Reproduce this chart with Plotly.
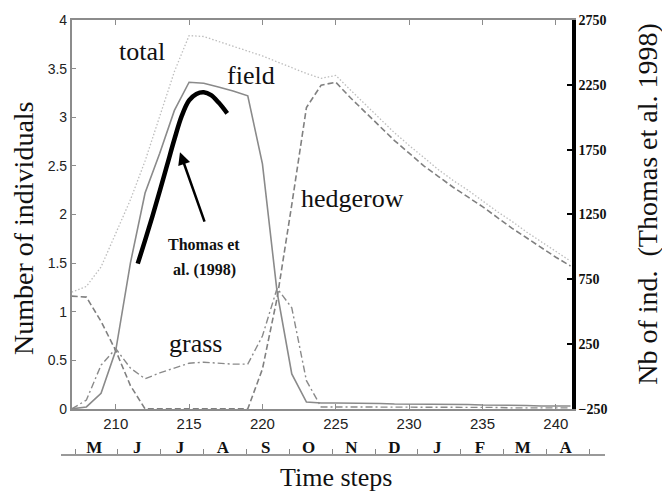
import plotly.graph_objects as go

# ---------------- data ----------------
t = list(range(207, 242))
total = [1.20, 1.26, 1.46, 1.80, 2.15, 2.55, 3.00, 3.47, 3.84, 3.83,
         3.78, 3.73, 3.68, 3.63, 3.57, 3.51, 3.45, 3.40, 3.43, 3.28,
         3.13, 2.98, 2.84, 2.71, 2.58, 2.46, 2.35, 2.25, 2.14, 2.03,
         1.93, 1.82, 1.72, 1.62, 1.52]
field = [0.00, 0.02, 0.16, 0.60, 1.50, 2.22, 2.63, 3.07, 3.36, 3.35,
         3.31, 3.27, 3.22, 2.52, 1.20, 0.36, 0.07, 0.06, 0.06, 0.06,
         0.055, 0.055, 0.05, 0.05, 0.05, 0.045, 0.045, 0.045, 0.04, 0.04,
         0.035, 0.035, 0.03, 0.03, 0.03]
hedgerow = [1.16, 1.15, 0.90, 0.60, 0.24, 0.00, 0.00, 0.00, 0.00, 0.00,
            0.00, 0.00, 0.00, 0.41, 1.14, 2.10, 3.10, 3.33, 3.36, 3.20,
            3.05, 2.90, 2.76, 2.63, 2.50, 2.39, 2.28, 2.18, 2.08, 1.97,
            1.86, 1.76, 1.66, 1.56, 1.47]
grass = [0.00, 0.09, 0.45, 0.62, 0.42, 0.31, 0.37, 0.42, 0.47, 0.48,
         0.47, 0.46, 0.46, 0.75, 1.24, 1.04, 0.29, 0.02, 0.02, 0.02,
         0.02, 0.02, 0.02, 0.02, 0.015, 0.015, 0.015, 0.015, 0.015, 0.015,
         0.01, 0.01, 0.01, 0.01, 0.01]
thomas_t = [211.5, 212.0, 212.5, 213.0, 213.5, 214.0, 214.5, 215.0,
            215.5, 216.0, 216.5, 217.0, 217.6]
thomas_n = [870, 1050, 1235, 1430, 1630, 1830, 2010, 2130,
            2180, 2193, 2170, 2115, 2030]
months = ["M", "J", "J", "A", "S", "O", "N", "D", "J", "F", "M", "A"]
x_ticks = [210, 215, 220, 225, 230, 235, 240]
right_ticks = [-250, 250, 750, 1250, 1750, 2250, 2750]

GRAY = "#8c8c8c"
SERIF = "Liberation Serif"
SANS = "Liberation Sans"

fig = go.Figure()
fig.add_trace(go.Scatter(x=t, y=total, mode="lines",
                         line=dict(color="#bdbdbd", width=1.3, dash="1.5px,2px")))
fig.add_trace(go.Scatter(x=t, y=field, mode="lines",
                         line=dict(color="#8a8a8a", width=1.6)))
fig.add_trace(go.Scatter(x=t, y=hedgerow, mode="lines",
                         line=dict(color="#808080", width=1.6, dash="6px,3px")))
fig.add_trace(go.Scatter(x=t, y=grass, mode="lines",
                         line=dict(color="#8a8a8a", width=1.4, dash="7px,3px,2px,3px")))
fig.add_trace(go.Scatter(x=thomas_t, y=thomas_n, mode="lines", yaxis="y2",
                         line=dict(color="black", width=4.5, shape="spline")))
# carrier for the month axis
fig.add_trace(go.Scatter(x=[], y=[], xaxis="x3", yaxis="y", mode="lines"))

fig.update_layout(
    width=662, height=492,
    margin=dict(l=61, r=57, t=16, b=37),
    paper_bgcolor="white", plot_bgcolor="rgba(0,0,0,0)",
    showlegend=False,
    xaxis=dict(domain=[0.0197, 0.9393], range=[207, 241.1], anchor="y",
               tickvals=x_ticks, ticks="inside", ticklen=5, tickcolor=GRAY,
               showline=True, linecolor=GRAY, linewidth=1.5, mirror="ticks",
               showgrid=False, zeroline=False,
               tickfont=dict(family=SANS, size=15, color="#222")),
    yaxis=dict(domain=[0.106, 1], range=[0, 4], dtick=0.5, anchor="x",
               ticks="inside", ticklen=5, tickcolor=GRAY,
               showline=True, linecolor=GRAY, linewidth=1.5,
               showgrid=False, zeroline=False,
               tickfont=dict(family=SANS, size=14, color="#222")),
    yaxis2=dict(overlaying="y", side="right", anchor="x", range=[-250, 2750],
                tickvals=right_ticks, ticks="inside", ticklen=5, tickwidth=2,
                tickcolor="black", showline=True, linecolor="black", linewidth=3.5,
                showgrid=False, zeroline=False,
                tickfont=dict(family=SERIF, size=14, color="#111", weight="bold")),
    xaxis3=dict(domain=[0, 1], anchor="free", position=0, side="top",
                range=[-0.3267, 12.366],
                tickvals=[i + 0.45 for i in range(12)], ticktext=months,
                ticks="", showline=True, linecolor="#999", linewidth=1.5,
                showgrid=False, zeroline=False, ticklabelstandoff=-6,
                minor=dict(tickmode="array", tickvals=list(range(13)),
                           ticks="outside", ticklen=5, tickcolor="#888", showgrid=False),
                tickfont=dict(family=SERIF, size=17, color="#111", weight="bold")),
)

ann = []
def txt(x, y, s, size=26, bold=False, xref="x", yref="y", angle=0):
    ann.append(dict(x=x, y=y, xref=xref, yref=yref, text=s, showarrow=False,
                    textangle=angle, xanchor="center", yanchor="middle",
                    font=dict(family=SERIF, size=size, color="#111",
                              weight="bold" if bold else "normal")))

txt(211.79, 3.68, "total")
txt(219.22, 3.43, "field")
txt(226.17, 2.16, "hedgerow")
txt(215.41, 0.67, "grass")
txt(216.02, 1.69, "Thomas et", size=16, bold=True)
txt(216.02, 1.43, "al. (1998)", size=16, bold=True)
txt(0.5046, -0.052, "Time steps", size=26, xref="paper", yref="paper")
txt(-0.07, 0.5216, "Number of individuals", size=28, xref="paper", yref="paper", angle=-90)
txt(1.079, 0.5774, "Nb of ind.&nbsp;&nbsp;(Thomas et al. 1998)", size=28,
    xref="paper", yref="paper", angle=-90)

# arrow pointing to the Thomas et al. curve
ann.append(dict(x=214.38, y=2.64, xref="x", yref="y", ax=216.09, ay=1.91,
                axref="x", ayref="y", text="", showarrow=True, arrowhead=2,
                arrowsize=1, arrowwidth=2.5, arrowcolor="black"))
fig.update_layout(annotations=ann)

fig.write_html("out.html", config={"displayModeBar": False},
               post_script="document.body.style.margin='0';document.body.style.padding='0';")
